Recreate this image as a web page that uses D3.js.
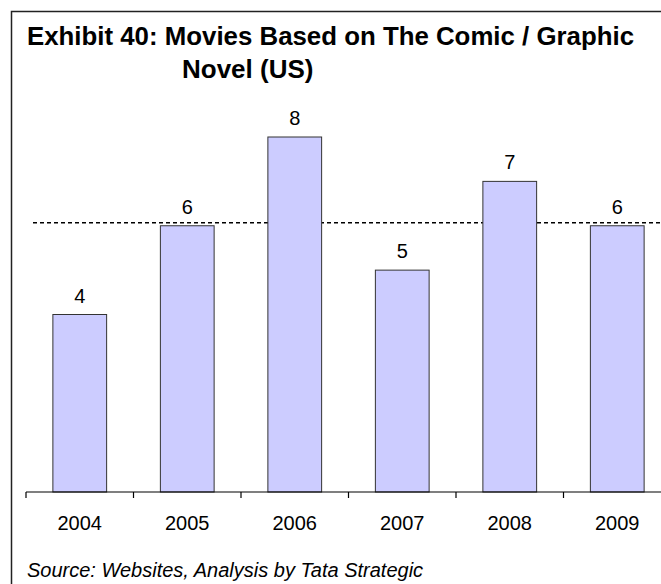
<!DOCTYPE html>
<html>
<head>
<meta charset="utf-8">
<script src="https://cdn.jsdelivr.net/npm/d3@7"></script>
<style>
  body { margin: 0; background: #fff; }
  svg { display: block; font-family: "Liberation Sans", Arial, sans-serif; }
</style>
</head>
<body>
<div id="chart"></div>
<script>
// chart data
const years = ["2004", "2005", "2006", "2007", "2008", "2009"];
const movies = [4, 6, 8, 5, 7, 6];
const titleLines = ["Exhibit 40: Movies Based on The Comic / Graphic", "Novel (US)"];
const sourceText = "Source: Websites, Analysis by Tata Strategic";

const width = 661;
const height = 584;
const baseY = 492;

const svg = d3.select("#chart").append("svg")
    .attr("width", width)
    .attr("height", height);

// frame (only top and left edges visible in the crop)
svg.append("path")
    .attr("d", `M11.5,${height} V11.5 H${width}`)
    .attr("fill", "none")
    .attr("stroke", "#222")
    .attr("stroke-width", 1.5);

// title
svg.append("text")
    .attr("x", 27)
    .attr("y", 45)
    .attr("font-size", 26)
    .attr("font-weight", "bold")
    .attr("textLength", 607)
    .attr("lengthAdjust", "spacingAndGlyphs")
    .text(titleLines[0]);
svg.append("text")
    .attr("x", 182)
    .attr("y", 78)
    .attr("font-size", 26)
    .attr("font-weight", "bold")
    .text(titleLines[1]);

const x = d3.scaleBand()
    .domain(years)
    .range([26, 26 + 6 * 107.5])
    .paddingInner(0.5)
    .paddingOuter(0.25);

const y = d3.scaleLinear()
    .domain([0, 8])
    .range([baseY, 137]);

// average line
const avg = d3.mean(movies);
svg.append("line")
    .attr("x1", 33)
    .attr("x2", width)
    .attr("y1", y(avg) - 3)
    .attr("y2", y(avg) - 3)
    .attr("stroke", "#000")
    .attr("stroke-width", 1.3)
    .attr("stroke-dasharray", "4,3");

// bars
svg.append("g")
    .selectAll("rect")
    .data(movies)
    .join("rect")
    .attr("x", (d, i) => x(years[i]))
    .attr("y", d => y(d))
    .attr("width", x.bandwidth())
    .attr("height", d => baseY - y(d))
    .attr("fill", "#ccccff")
    .attr("stroke", "#333")
    .attr("stroke-width", 1);

// value labels
svg.append("g")
    .selectAll("text")
    .data(movies)
    .join("text")
    .attr("x", (d, i) => x(years[i]) + x.bandwidth() / 2)
    .attr("y", d => y(d) - 12)
    .attr("text-anchor", "middle")
    .attr("font-size", 20)
    .text(d => d);

// x axis
const axis = d3.axisBottom(x).tickSize(0).tickPadding(0);
const gx = svg.append("g")
    .attr("transform", `translate(0,${baseY})`)
    .call(axis);
gx.select(".domain").remove();
gx.append("line")
    .attr("x1", 26).attr("x2", width)
    .attr("stroke", "#000").attr("stroke-width", 1.2);
// ticks between categories
gx.selectAll(".sep")
    .data(d3.range(years.length + 1))
    .join("line")
    .attr("class", "sep")
    .attr("x1", i => 26 + i * x.step())
    .attr("x2", i => 26 + i * x.step())
    .attr("y1", 0).attr("y2", 6)
    .attr("stroke", "#000").attr("stroke-width", 1.2);
gx.selectAll(".tick text")
    .attr("y", 38)
    .attr("dy", null)
    .attr("font-size", 20)
    .attr("font-family", "Liberation Sans, Arial, sans-serif")
    .attr("fill", "#000");

// source
svg.append("text")
    .attr("x", 27)
    .attr("y", 577)
    .attr("font-size", 20)
    .attr("font-style", "italic")
    .text(sourceText);
</script>
</body>
</html>
